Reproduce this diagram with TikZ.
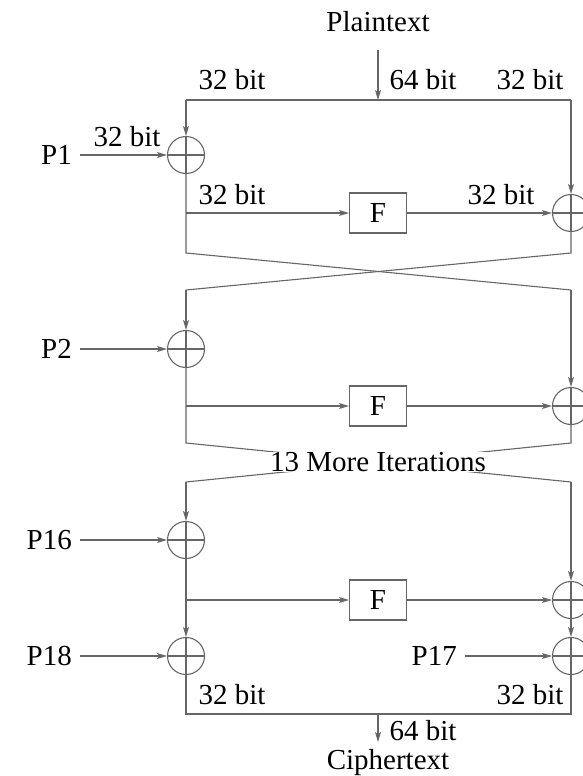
\documentclass[tikz,border=0pt]{standalone}
\usepackage{fontspec}
\setmainfont{Liberation Serif}
\usetikzlibrary{arrows.meta}
\begin{document}
\begin{tikzpicture}[x=1pt,y=-1pt,
  ln/.style={draw=black!60,line width=1.1pt},
  arr/.style={ln,-{Stealth[length=10pt,width=6pt,inset=2.5pt]}},
  xor/.style={circle,draw=black!60,line width=1.1pt,minimum size=37pt,inner sep=0pt,
    path picture={\draw[black!60,line width=1.1pt] (path picture bounding box.north) -- (path picture bounding box.south)
      (path picture bounding box.west) -- (path picture bounding box.east);}},
  fbox/.style={draw=black!60,line width=1.1pt,minimum width=57pt,minimum height=40pt,inner sep=0pt},
  lbl/.style={inner sep=0pt},
  plbl/.style={inner sep=0pt,inner xsep=8pt,anchor=east},
  every node/.append style={font=\fontsize{29}{34}\selectfont}]
\useasboundingbox (0,0) rectangle (583,776);
% top
\node[lbl] (plain) at (378,22) {Plaintext};
\coordinate (pin) at (378,50);
\coordinate (tl) at (186,100);
\coordinate (tr) at (571,100);
\coordinate (tm) at (378,100);
\node[lbl] at (232,80) {32 bit};
\node[lbl] at (423,80) {64 bit};
\node[lbl] at (530,80) {32 bit};
\draw[arr] (pin) -- (tm);
\draw[ln] (tl) -- (tr);
% round 1
\node[xor] (x1) at (186,155) {};
\node[plbl] (p1) at (80,155) {P1};
\node[lbl] at (127,137) {32 bit};
\node[fbox] (f1) at (378,213) {F};
\node[xor] (x1r) at (571,213) {};
\coordinate (j1) at (186,213);
\node[lbl] at (232,195) {32 bit};
\node[lbl] at (501,195) {32 bit};
\draw[arr] (tl) -- (x1.north);
\draw[arr] (tr) -- (x1r.north);
\draw[arr] (p1.east) -- (x1.west);
\draw[arr] (j1) -- (f1.west);
\draw[arr] (f1.east) -- (x1r.west);
\coordinate (c1a) at (186,253);
\coordinate (c1b) at (571,253);
\coordinate (c1c) at (186,290);
\coordinate (c1d) at (571,290);
% round 2
\node[xor] (x2) at (186,349) {};
\node[plbl] (p2) at (80,349) {P2};
\node[fbox] (f2) at (378,406) {F};
\node[xor] (x2r) at (571,406) {};
\coordinate (j2) at (186,406);
\draw[ln] (x1.south) -- (c1a) -- (c1d);
\draw[ln] (x1r.south) -- (c1b) -- (c1c);
\draw[arr] (c1c) -- (x2.north);
\draw[arr] (c1d) -- (x2r.north);
\draw[arr] (p2.east) -- (x2.west);
\draw[arr] (j2) -- (f2.west);
\draw[arr] (f2.east) -- (x2r.west);
\coordinate (c2a) at (186,443);
\coordinate (c2b) at (571,443);
\coordinate (c2c) at (186,482);
\coordinate (c2d) at (571,482);
\draw[ln] (x2.south) -- (c2a) -- (c2d);
\draw[ln] (x2r.south) -- (c2b) -- (c2c);
\node[lbl,fill=white,inner xsep=3pt] (more) at (378,462) {13 More Iterations};
% round 16
\node[xor] (x16) at (186,540) {};
\node[plbl] (p16) at (80,540) {P16};
\node[fbox] (f3) at (378,600) {F};
\node[xor] (x3r) at (571,600) {};
\coordinate (j3) at (186,600);
\node[xor] (x18) at (186,656) {};
\node[plbl] (p18) at (80,656) {P18};
\node[xor] (x17) at (571,656) {};
\node[plbl] (p17) at (465,656) {P17};
\draw[arr] (c2c) -- (x16.north);
\draw[arr] (c2d) -- (x3r.north);
\draw[arr] (p16.east) -- (x16.west);
\draw[arr] (j3) -- (f3.west);
\draw[arr] (f3.east) -- (x3r.west);
\draw[arr] (x16.south) -- (x18.north);
\draw[arr] (x3r.south) -- (x17.north);
\draw[arr] (p18.east) -- (x18.west);
\draw[arr] (p17.east) -- (x17.west);
% bottom
\coordinate (bl) at (186,714);
\coordinate (br) at (571,714);
\coordinate (bm) at (378,714);
\coordinate (pout) at (378,742);
\draw[ln] (x18.south) -- (bl) -- (br) -- (x17.south);
\draw[arr] (bm) -- (pout);
\node[lbl] at (232,695) {32 bit};
\node[lbl] at (530,695) {32 bit};
\node[lbl] at (423,731) {64 bit};
\node[lbl] (ciph) at (388,763) {Ciphertext};
\end{tikzpicture}
\end{document}
